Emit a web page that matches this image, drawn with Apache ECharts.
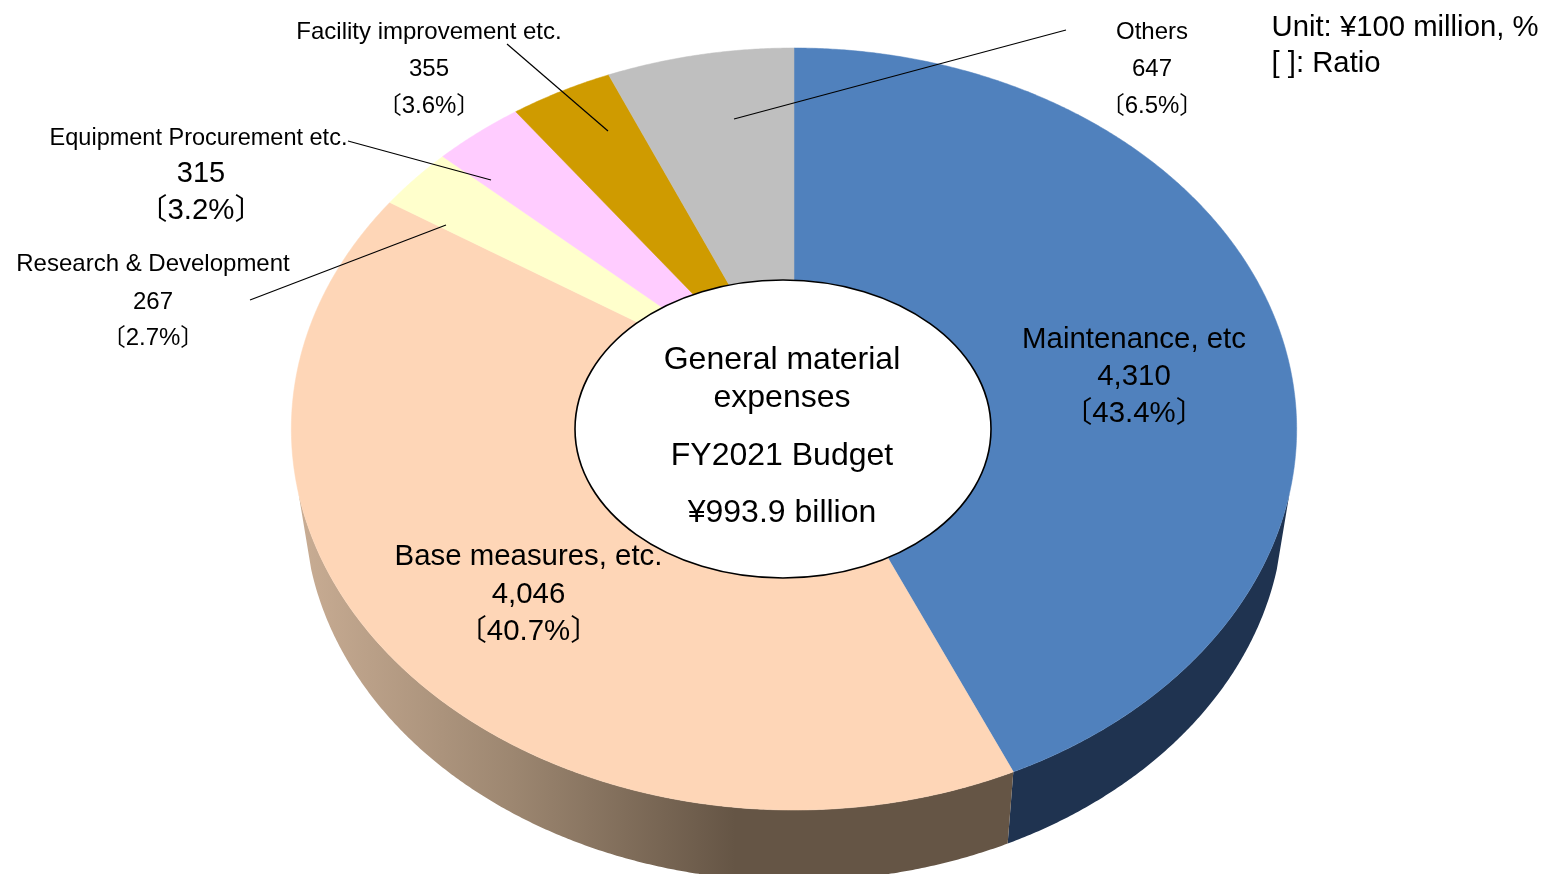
<!DOCTYPE html>
<html>
<head>
<meta charset="utf-8">
<style>html,body{margin:0;padding:0;background:#fff}#c{width:1542px;height:874px}</style>
<script src="https://cdn.jsdelivr.net/npm/echarts@6/dist/echarts.min.js"></script>
</head>
<body>
<div id="c"></div>
<script>
// ---- chart values (clockwise from 12 o'clock) ----
const categories = ['Maintenance, etc', 'Base measures, etc.', 'Research & Development', 'Equipment Procurement etc.', 'Facility improvement etc.', 'Others'];
const values = [4310, 4046, 267, 315, 355, 647];
const valueLabels = ['4,310', '4,046', '267', '315', '355', '647'];
const ratios = ['〔43.4%〕', '〔40.7%〕', '〔2.7%〕', '〔3.2%〕', '〔3.6%〕', '〔6.5%〕'];
const centerLines = ['General material', 'expenses', 'FY2021 Budget', '¥993.9 billion'];
const unitLines = ['Unit: ¥100 million, %', '[ ]: Ratio'];

// ---- styles ----
const faceColors = ['#5081bd', '#fed6b7', '#ffffcc', '#ffccff', '#cf9b00', '#bfbfbf'];
const FONT = '"Liberation Sans","Noto Sans CJK JP",Arial,sans-serif';

// ---- layout ----
const labelPos = [
  {x: 1134, y: [340, 377, 414], size: [29.4, 29.4, 29.4]},
  {x: 528.5, y: [557, 595, 632], size: [29.4, 29.4, 29.4]},
  {x: 153, y: [264, 302, 338], size: [24, 24, 24]},
  {x: 198.5, y: [139, 174, 211], size: [23.5, 29, 29.4]},
  {x: 429, y: [32, 69, 106], size: [24, 24, 24]},
  {x: 1152, y: [32, 69, 106], size: [24, 24, 24]}
];
const leaders = [
  null, null,
  [[250, 300], [446, 225]],
  [[348, 141], [491, 180]],
  [[507, 44], [608, 131]],
  [[1066, 30], [734, 119]]
];
const centerY = [360, 398, 456, 513];
const unitY = [28, 64];

// perspective mapping of the pie disc onto the page
const P = {cx: 794, cy: 398, a: 501, b: 378.5, k: -0.0814};
const TOP = {cy: 429, ry: 381, rx: 503};
const BOT = {cy: 507, ry: 374, rx: 490};
const WALL_FROM = 104.2 * Math.PI / 180, WALL_TO = 255.8 * Math.PI / 180; // visible front of the disc
function topPoint(t) {
  const x = Math.sin(t), y = -Math.cos(t), d = 1 + P.k * y;
  return [P.cx + P.a * x / d, P.cy + P.b * y / d];
}
function botPoint(t) {
  const p = topPoint(t);
  return [P.cx + (p[0] - P.cx) * BOT.rx / TOP.rx, BOT.cy + (p[1] - TOP.cy) * BOT.ry / TOP.ry];
}
const total = values.reduce((s, v) => s + v, 0);
function angleRange(i) {
  let before = 0;
  for (let j = 0; j < i; j++) before += values[j];
  return [before / total * 2 * Math.PI, (before + values[i]) / total * 2 * Math.PI];
}
function arc(a0, a1, fn) {
  const pts = [], n = Math.max(2, Math.ceil((a1 - a0) / 0.006));
  for (let s = 0; s <= n; s++) pts.push(fn(a0 + (a1 - a0) * s / n));
  return pts;
}
function wallFill(i) {
  if (i === 0) return '#1f3350';
  return new echarts.graphic.LinearGradient(296, 0, 735, 0, [
    {offset: 0, color: '#c9ad94'},
    {offset: 0.5, color: '#9c8670'},
    {offset: 1, color: '#655545'}
  ], true);
}
function txt(text, x, y, size, align) {
  return {type: 'text', style: {text, x, y, font: size + 'px ' + FONT, fill: '#000', align: align || 'center', verticalAlign: 'middle'}};
}
const seriesData = values.map((v, i) => ({value: [i, v], name: categories[i]}));

const option = {
  backgroundColor: '#fff',
  animation: false,
  series: [
    {
      type: 'custom', coordinateSystem: 'none', silent: true, z: 1, data: seriesData,
      renderItem(p, api) {
        const i = api.value(0), r = angleRange(i);
        const a0 = Math.max(r[0], WALL_FROM), a1 = Math.min(r[1], WALL_TO);
        if (a1 <= a0) return {type: 'group', children: []};
        const pts = arc(a0, a1, topPoint).concat(arc(a0, a1, botPoint).reverse());
        return {type: 'polygon', shape: {points: pts}, style: {fill: wallFill(i), stroke: null}};
      }
    },
    {
      type: 'custom', coordinateSystem: 'none', silent: true, z: 2, data: seriesData,
      renderItem(p, api) {
        const i = api.value(0), r = angleRange(i);
        const pts = [[P.cx, P.cy]].concat(arc(r[0], r[1], topPoint));
        return {type: 'polygon', shape: {points: pts}, style: {fill: faceColors[i], stroke: faceColors[i], lineWidth: 0.5}};
      }
    },
    {
      type: 'custom', coordinateSystem: 'none', silent: true, z: 3, data: [0],
      renderItem() {
        const kids = [{type: 'ellipse', shape: {cx: 783, cy: 429, rx: 208, ry: 149}, style: {fill: '#fff', stroke: '#000', lineWidth: 1.6}}];
        centerLines.forEach((t, j) => kids.push(txt(t, 782, centerY[j], 32)));
        unitLines.forEach((t, j) => kids.push(txt(t, 1271.5, unitY[j], 29.3, 'left')));
        return {type: 'group', children: kids};
      }
    },
    {
      type: 'custom', coordinateSystem: 'none', silent: true, z: 4, data: seriesData,
      renderItem(p, api) {
        const i = api.value(0), kids = [], L = labelPos[i];
        if (leaders[i]) kids.push({type: 'line', shape: {x1: leaders[i][0][0], y1: leaders[i][0][1], x2: leaders[i][1][0], y2: leaders[i][1][1]}, style: {stroke: '#000', lineWidth: 1.2}});
        [categories[i], valueLabels[i], ratios[i]].forEach((t, j) => {
          const x = (i === 3 && j > 0) ? L.x + 2.5 : L.x;
          kids.push(txt(t, x, L.y[j], L.size[j]));
        });
        return {type: 'group', children: kids};
      }
    }
  ]
};
const chart = echarts.init(document.getElementById('c'), null, {renderer: 'canvas'});
chart.setOption(option);
</script>
</body>
</html>
